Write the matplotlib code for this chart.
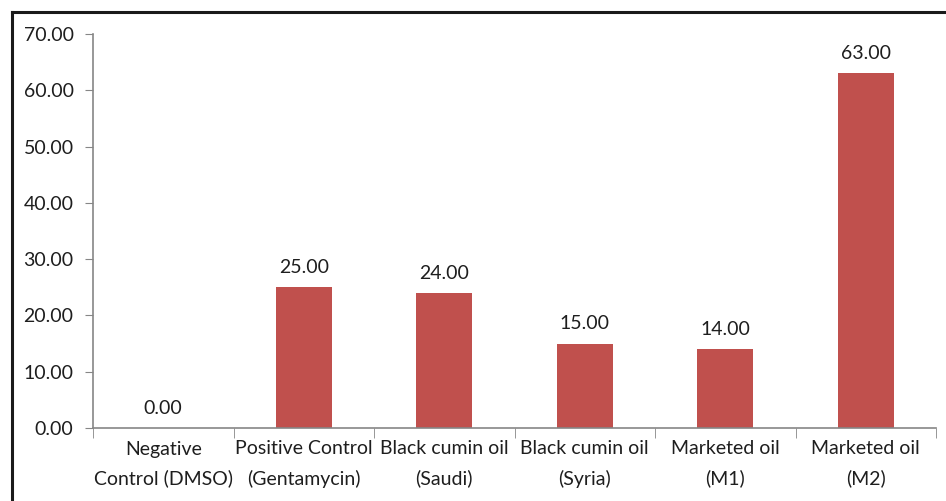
import matplotlib.pyplot as plt
from matplotlib.lines import Line2D

categories = ["Negative\nControl (DMSO)", "Positive Control\n(Gentamycin)", "Black cumin oil\n(Saudi)",
              "Black cumin oil\n(Syria)", "Marketed oil\n(M1)", "Marketed oil\n(M2)"]
values = [0.0, 25.0, 24.0, 15.0, 14.0, 63.0]
yticks = [0, 10, 20, 30, 40, 50, 60, 70]

plt.rcParams['font.family'] = ['Lato', 'DejaVu Sans']

fig = plt.figure(figsize=(9.46, 5.01), dpi=100)
ax = fig.add_axes([93 / 946, 1 - 428 / 501, (936 - 93) / 946, (428 - 34) / 501])

x = list(range(len(values)))
bars = ax.bar(x, values, width=0.4, color="#C0504D")
for xi, v in zip(x, values):
    ax.text(xi, v + 2.0, "%.2f" % v, ha="center", va="bottom", fontsize=14, color="#1e1e1e")

ax.set_xlim(-0.5, len(values) - 0.5)
ax.set_ylim(0, 70)
ax.set_yticks(yticks)
ax.set_yticklabels(["%.2f" % t for t in yticks], fontsize=14, color="#1e1e1e")
ax.set_xticks(x)
ax.set_xticklabels(categories, fontsize=14, color="#1e1e1e", linespacing=1.8)
ax.tick_params(axis="x", length=0, pad=9)
ax.tick_params(axis="y", length=6, color="#868686", pad=8)
# category boundary ticks
ax.set_xticks([i - 0.5 for i in range(len(values) + 1)], minor=True)
ax.tick_params(axis="x", which="minor", length=7, color="#868686")

for s in ["top", "right"]:
    ax.spines[s].set_visible(False)
for s in ["left", "bottom"]:
    ax.spines[s].set_color("#868686")
    ax.spines[s].set_linewidth(1.2)

# outer frame (only top and left visible in the crop)
fig.add_artist(Line2D([11.5 / 946, 11.5 / 946], [0, 1 - 11.5 / 501], color="#1a1a1a", lw=2.2))
fig.add_artist(Line2D([11.5 / 946, 1], [1 - 11.5 / 501, 1 - 11.5 / 501], color="#1a1a1a", lw=2.2))

fig.savefig("out.png", dpi=100)
